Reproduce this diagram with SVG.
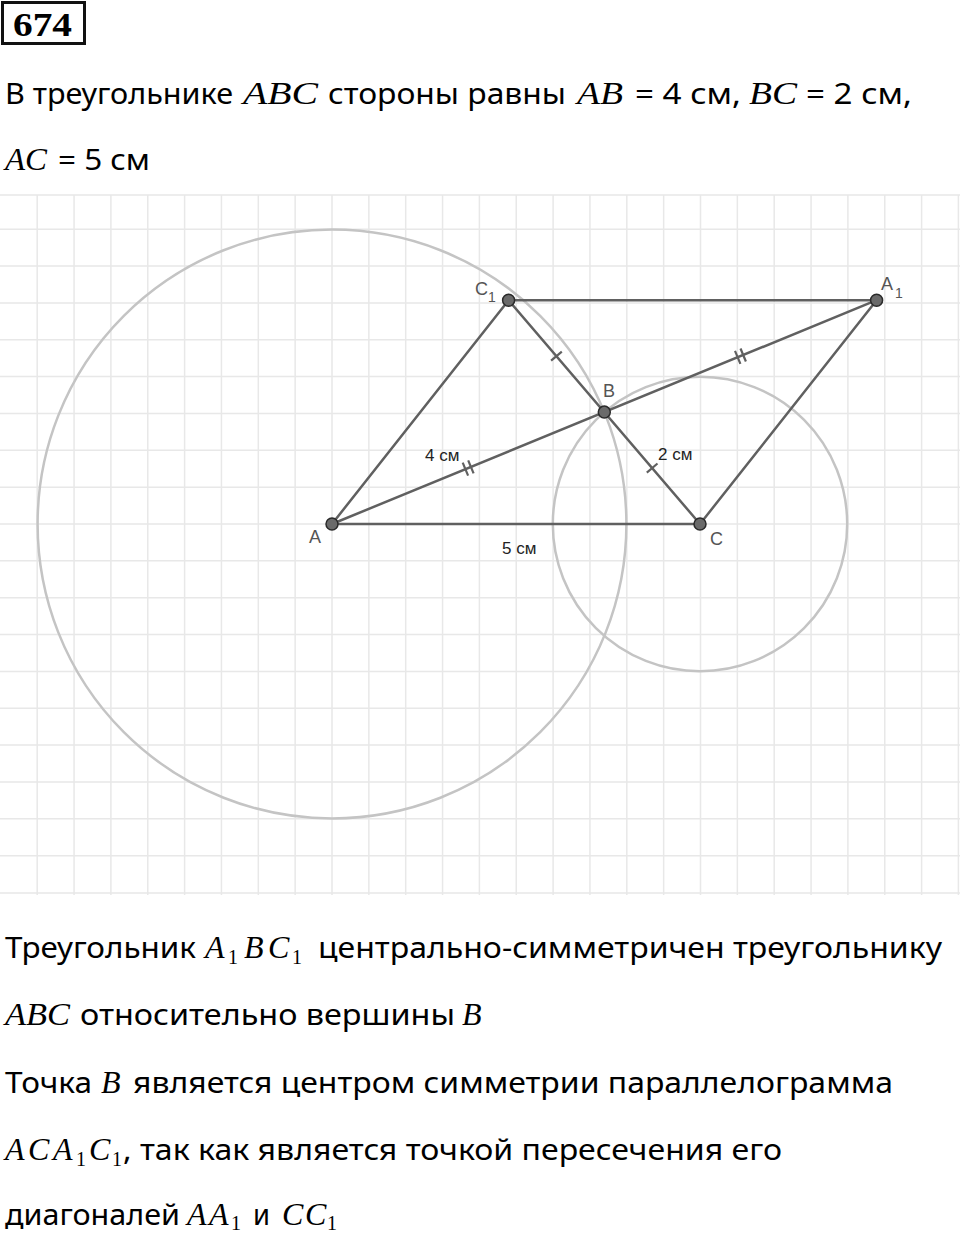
<svg xmlns="http://www.w3.org/2000/svg" width="960" height="1236" viewBox="0 0 960 1236">
<style>
.grid{stroke:#e8e8e8;stroke-width:1.5;fill:none}
.circ{fill:none;stroke:#c4c4c4;stroke-width:2.5}
.seg{stroke:#606060;stroke-width:2.5;fill:none;stroke-linecap:round}
.tick{stroke:#606060;stroke-width:2.2}
.pt{fill:#6a6a6a;stroke:#2a2a2a;stroke-width:1.5}
.lbl{font-family:"Liberation Sans",Arial,sans-serif;font-size:18px;fill:#555}
.lbls{font-family:"Liberation Sans",Arial,sans-serif;font-size:14px;fill:#555}
.len{font-family:"Liberation Sans",Arial,sans-serif;font-size:17px;fill:#222}
.t{font-family:"Noto Sans","Open Sans",sans-serif;font-size:29px;fill:#000}
.m{font-family:"Liberation Serif","Times New Roman",serif;font-style:italic;font-size:32px;fill:#000}
.sub{font-family:"Liberation Serif","Times New Roman",serif;font-size:20px;fill:#000}
</style>
<rect width="960" height="1236" fill="#fff"/>

<g id="title">
<rect x="2.5" y="2.5" width="82" height="41" fill="#fff" stroke="#111" stroke-width="3"/>
<text x="13" y="36" font-family="Liberation Serif,serif" font-weight="bold" font-size="34" textLength="59" lengthAdjust="spacingAndGlyphs">674</text>
</g>

<g id="intro">
<text class="t" x="5" y="104" textLength="228" lengthAdjust="spacingAndGlyphs">В треугольнике</text>
<text class="m" x="243" y="104" textLength="75" lengthAdjust="spacingAndGlyphs">ABC</text>
<text class="t" x="328" y="104" textLength="238" lengthAdjust="spacingAndGlyphs">стороны равны</text>
<text class="m" x="577" y="104" textLength="46" lengthAdjust="spacingAndGlyphs">AB</text>
<text class="t" x="635" y="104" textLength="106" lengthAdjust="spacingAndGlyphs">= 4 см,</text>
<text class="m" x="749" y="104" textLength="48" lengthAdjust="spacingAndGlyphs">BC</text>
<text class="t" x="806" y="104" textLength="106" lengthAdjust="spacingAndGlyphs">= 2 см,</text>
<text class="m" x="5" y="170" textLength="42" lengthAdjust="spacingAndGlyphs">AC</text>
<text class="t" x="58" y="170" textLength="92" lengthAdjust="spacingAndGlyphs">= 5 см</text>
</g>

<g id="grid">
<path class="grid" d="M37.2 195V895M74.05 195V895M110.9 195V895M147.75 195V895M184.6 195V895M221.45 195V895M258.3 195V895M295.15 195V895M332 195V895M368.85 195V895M405.7 195V895M442.55 195V895M479.4 195V895M516.25 195V895M553.1 195V895M589.95 195V895M626.8 195V895M663.65 195V895M700.5 195V895M737.35 195V895M774.2 195V895M811.05 195V895M847.9 195V895M884.75 195V895M921.6 195V895M958.4 195V895
M0 195H960M0 229.2H960M0 266.05H960M0 302.9H960M0 339.75H960M0 376.6H960M0 413.45H960M0 450.3H960M0 487.15H960M0 524H960M0 560.85H960M0 597.7H960M0 634.55H960M0 671.4H960M0 708.25H960M0 745.1H960M0 781.95H960M0 818.8H960M0 855.65H960M0 893H960"/>
</g>

<g id="construction-circles">
<circle class="circ" cx="332" cy="524" r="294.4"/>
<circle class="circ" cx="700" cy="524" r="147.2"/>
</g>

<g id="connectors">
<line class="seg" x1="332" y1="524" x2="700" y2="524"/>
<line class="seg" x1="332" y1="524" x2="508.6" y2="300.2"/>
<line class="seg" x1="508.6" y1="300.2" x2="876.6" y2="300.2"/>
<line class="seg" x1="876.6" y1="300.2" x2="700" y2="524"/>
<line class="seg" x1="332" y1="524" x2="876.6" y2="300.2"/>
<line class="seg" x1="508.6" y1="300.2" x2="700" y2="524"/>
<line class="tick" x1="551.1" y1="360.7" x2="561.8" y2="351.6"/>
<line class="tick" x1="646.8" y1="472.6" x2="657.5" y2="463.5"/>
<line class="tick" x1="462.7" y1="462.7" x2="468.1" y2="475.7"/>
<line class="tick" x1="468.2" y1="460.4" x2="473.6" y2="473.4"/>
<line class="tick" x1="735.0" y1="350.8" x2="740.4" y2="363.8"/>
<line class="tick" x1="740.5" y1="348.5" x2="745.9" y2="361.5"/>
<text class="len" x="425" y="461">4 см</text>
<text class="len" x="658" y="460">2 см</text>
<text class="len" x="502" y="554">5 см</text>
</g>

<g id="node-A"><circle class="pt" cx="332" cy="524" r="6"/><text class="lbl" x="309" y="543">A</text></g>
<g id="node-B"><circle class="pt" cx="604.3" cy="412.1" r="6"/><text class="lbl" x="603" y="397">B</text></g>
<g id="node-C"><circle class="pt" cx="700" cy="524" r="6"/><text class="lbl" x="710" y="545">C</text></g>
<g id="node-C1"><circle class="pt" cx="508.6" cy="300.2" r="6"/><text class="lbl" x="475" y="295">C</text><text class="lbls" x="488" y="302">1</text></g>
<g id="node-A1"><circle class="pt" cx="876.6" cy="300.2" r="6"/><text class="lbl" x="881" y="290">A</text><text class="lbls" x="895" y="298">1</text></g>

<g id="conclusion">
<text class="t" x="5" y="958" textLength="191" lengthAdjust="spacingAndGlyphs">Треугольник</text>
<text class="m" x="205" y="958">A</text><text class="sub" x="228" y="964">1</text>
<text class="m" x="244" y="958">B</text><text class="m" x="268" y="958">C</text><text class="sub" x="292" y="964">1</text>
<text class="t" x="318" y="958" textLength="624" lengthAdjust="spacingAndGlyphs">центрально-симметричен треугольнику</text>

<text class="m" x="5" y="1025" textLength="65" lengthAdjust="spacingAndGlyphs">ABC</text>
<text class="t" x="80" y="1025" textLength="375" lengthAdjust="spacingAndGlyphs">относительно вершины</text>
<text class="m" x="462" y="1025">B</text>

<text class="t" x="5" y="1093" textLength="87" lengthAdjust="spacingAndGlyphs">Точка</text>
<text class="m" x="101" y="1093">B</text>
<text class="t" x="133" y="1093" textLength="760" lengthAdjust="spacingAndGlyphs">является центром симметрии параллелограмма</text>

<text class="m" x="5" y="1160">A</text><text class="m" x="28" y="1160">C</text><text class="m" x="53" y="1160">A</text><text class="sub" x="76" y="1166">1</text>
<text class="m" x="89" y="1160">C</text><text class="sub" x="112" y="1166">1</text>
<text class="t" x="123" y="1160" textLength="659" lengthAdjust="spacingAndGlyphs">, так как является точкой пересечения его</text>

<text class="t" x="5" y="1225" textLength="175" lengthAdjust="spacingAndGlyphs">диагоналей</text>
<text class="m" x="187" y="1225">A</text><text class="m" x="209" y="1225">A</text><text class="sub" x="231" y="1230">1</text>
<text class="t" x="253" y="1225" textLength="17" lengthAdjust="spacingAndGlyphs">и</text>
<text class="m" x="282" y="1225">C</text><text class="m" x="305" y="1225">C</text><text class="sub" x="327" y="1230">1</text>
</g>
</svg>
